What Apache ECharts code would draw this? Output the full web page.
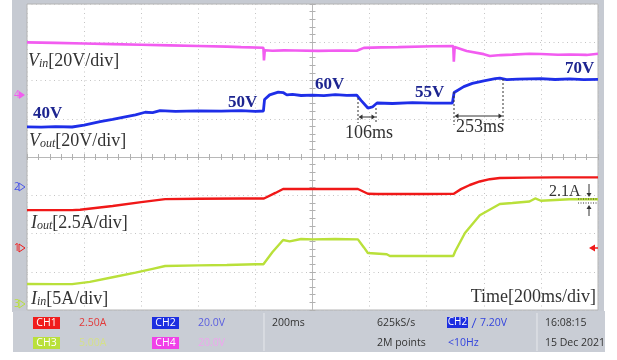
<!DOCTYPE html>
<html>
<head>
<meta charset="utf-8">
<script src="https://cdn.jsdelivr.net/npm/echarts@6/dist/echarts.min.js"></script>
<style>
  html, body { margin: 0; padding: 0; background: #fff; }
  #chart { width: 617px; height: 360px; }
</style>
</head>
<body>
<div id="chart"></div>
<script>
// Oscilloscope capture: time in ms relative to the trigger point (200 ms/div, 10 div)
const timeSpan = [-1000, 1000];
const timePerDiv = 200;

// CH4 — input voltage (V)
const vinTrace = [
  [-1000, 94.0], [-900, 93.7], [-800, 93.3], [-700, 92.9], [-600, 92.5], [-500, 92.1],
  [-400, 91.7], [-300, 91.3], [-250, 91.0], [-172, 90.6], [-170, 82.5], [-167, 89.0],
  [-140, 88.7], [-100, 88.9], [-60, 88.8], [20, 88.6], [100, 88.8], [155, 88.7],
  [180, 90.5], [240, 90.8], [300, 91.0], [420, 91.5], [493, 91.7], [495, 81.7],
  [498, 91.0], [540, 88.5], [600, 86.5], [621, 85.3], [660, 85.9], [700, 86.2],
  [760, 86.7], [800, 86.6], [860, 86.1], [900, 86.3], [960, 86.0], [1000, 86.7]
];

// CH2 — output voltage (V)
const voutTrace = [
  [-1000, 40.1], [-950, 39.9], [-900, 40.2], [-842, 40.0], [-800, 41.2], [-744, 43.5],
  [-700, 44.8], [-656, 46.5], [-620, 47.8], [-586, 49.4], [-560, 49.2], [-534, 50.4],
  [-480, 50.0], [-400, 50.3], [-320, 50.1], [-250, 50.4], [-200, 50.0], [-172, 50.2],
  [-168, 57.5], [-150, 60.5], [-120, 62.3], [-103, 62.0], [-90, 60.5], [-70, 60.8],
  [-40, 60.1], [0, 60.4], [40, 60.0], [80, 60.6], [120, 60.2], [155, 60.3],
  [170, 57.0], [194, 52.1], [210, 52.8], [226, 55.3], [280, 55.0], [350, 55.5],
  [420, 55.2], [490, 55.3], [496, 62.0], [530, 65.8], [560, 67.8], [600, 69.5],
  [640, 70.8], [656, 71.2], [680, 70.2], [720, 70.6], [800, 70.9], [850, 70.3],
  [900, 70.7], [950, 70.2], [1000, 70.4]
];

// CH1 — output current (A)
const ioutTrace = [
  [-1000, 2.48], [-842, 2.48], [-814, 2.5], [-700, 2.75], [-600, 3.0], [-516, 3.2],
  [-400, 3.22], [-250, 3.24], [-170, 3.24], [-130, 3.6], [-103, 3.86], [0, 3.86],
  [159, 3.86], [194, 3.55], [226, 3.53], [400, 3.53], [495, 3.55], [520, 3.85],
  [551, 4.12], [586, 4.35], [621, 4.5], [656, 4.58], [750, 4.6], [850, 4.62], [1000, 4.62]
];

// CH3 — input current (A)
const iinTrace = [
  [-1000, 2.61], [-900, 2.6], [-842, 2.6], [-780, 2.9], [-700, 3.5], [-620, 4.1],
  [-560, 4.6], [-516, 4.97], [-400, 5.05], [-300, 5.1], [-200, 5.2], [-172, 5.2],
  [-140, 6.8], [-103, 8.37], [-80, 8.2], [-40, 8.5], [0, 8.45], [80, 8.5], [159, 8.45],
  [180, 7.4], [194, 6.67], [260, 6.5], [271, 6.27], [400, 6.3], [493, 6.27], [500, 6.9],
  [534, 9.28], [586, 11.6], [656, 13.07], [700, 13.2], [760, 13.4], [780, 13.8],
  [800, 13.5], [900, 13.7], [1000, 13.7]
];

// Output voltage set-points annotated along CH2
const voutLevels = ['40V', '50V', '60V', '55V', '70V'];
const timingNotes = ['106ms', '253ms'];
const currentNote = '2.1A';

// Status bar readouts
const chanReadouts = [
  { name: 'CH1', scale: '2.50A' },
  { name: 'CH2', scale: '20.0V' },
  { name: 'CH3', scale: '5.00A' },
  { name: 'CH4', scale: '20.0V' }
];
const timebase = '200ms';
const acquisition = ['625kS/s', '2M points'];
const trigger = ['CH2', '7.20V', '<10Hz'];
const stamp = ['16:08:15', '15 Dec 2021'];

const C = {
  vin: '#f25cf0', vout: '#1e2ee8', iout: '#f01818', iin: '#b9e03a',
  navy: '#1d2590', ink: '#333333', frame: '#c6cad2', panel: '#c9cdd5'
};
const SERIF = '"Liberation Serif", "DejaVu Serif", serif';
const SANS = '"Open Sans", "Liberation Sans", sans-serif';

const chart = echarts.init(document.getElementById('chart'), null, { renderer: 'canvas' });

const gridBox = { left: 27, top: 4, width: 571, height: 306 };

function text(x, y, str, opt) {
  return {
    type: 'text', x: x, y: y, z: 100,
    style: Object.assign({
      text: str, fill: C.ink, fontSize: 18, fontFamily: SERIF,
      align: 'left', verticalAlign: 'middle'
    }, opt || {})
  };
}
function line(x1, y1, x2, y2, opt) {
  return {
    type: 'line', z: 100,
    shape: { x1: x1, y1: y1, x2: x2, y2: y2 },
    style: Object.assign({ stroke: C.ink, lineWidth: 1 }, opt || {})
  };
}
function poly(points, fill, stroke) {
  return {
    type: 'polygon', z: 100,
    shape: { points: points },
    style: stroke ? { fill: 'none', stroke: stroke, lineWidth: 1 } : { fill: fill }
  };
}
function head(x, y, dir) {
  const s = 4, w = 2.5;
  if (dir === 'left') return poly([[x, y], [x + s, y - w], [x + s, y + w]], C.ink);
  if (dir === 'right') return poly([[x, y], [x - s, y - w], [x - s, y + w]], C.ink);
  if (dir === 'down') return poly([[x, y], [x - w, y - s], [x + w, y - s]], C.ink);
  return poly([[x, y], [x - w, y + s], [x + w, y + s]], C.ink);
}
function chanLabel(x, y, main, sub, rest) {
  return text(x, y, '{m|' + main + '}{s|' + sub + '}' + rest, {
    rich: {
      m: { fontStyle: 'italic', fontSize: 18, fontFamily: SERIF, fill: C.ink, verticalAlign: 'bottom' },
      s: { fontStyle: 'italic', fontSize: 12, fontFamily: SERIF, fill: C.ink, verticalAlign: 'bottom' }
    }
  });
}
function marker(y, num, color, filled) {
  return [
    text(14, y, num, { fontSize: 10, fontFamily: SANS, fill: color }),
    poly([[19, y - 4], [19, y + 4], [25, y]], color, filled ? null : color)
  ];
}

const graphics = [];
// instrument frame and status bar
graphics.push({ type: 'rect', z: -10, shape: { x: 12, y: 0, width: 592, height: 312 }, style: { fill: C.frame } });
graphics.push({ type: 'rect', z: -10, shape: { x: 13, y: 311, width: 592, height: 41 }, style: { fill: C.panel } });
graphics.push(line(264, 313, 264, 351, { stroke: '#e6e8ec' }));
graphics.push(line(537, 313, 537, 351, { stroke: '#e6e8ec' }));

// channel readouts
const boxColors = { CH1: '#f01c1c', CH2: '#1c2ee0', CH3: '#b9e03a', CH4: '#f040e8' };
const scaleColors = { CH1: '#e23a3a', CH2: '#5a5ee0', CH3: '#d5e08a', CH4: '#eea6ee' };
const slots = { CH1: [33, 323], CH2: [152, 323], CH3: [33, 343], CH4: [152, 343] };
chanReadouts.forEach(function (c) {
  const p = slots[c.name];
  graphics.push({ type: 'rect', z: 50, shape: { x: p[0], y: p[1] - 6, width: 27, height: 12 }, style: { fill: boxColors[c.name] } });
  graphics.push(text(p[0] + 13.5, p[1], c.name, { fontSize: 10.5, fontFamily: SANS, fill: '#fff', align: 'center' }));
  graphics.push(text(p[0] + 46, p[1], c.scale, { fontSize: 10.5, fontFamily: SANS, fill: scaleColors[c.name] }));
});
graphics.push(text(272, 323, timebase, { fontSize: 10.5, fontFamily: SANS }));
graphics.push(text(377, 323, acquisition[0], { fontSize: 10.5, fontFamily: SANS }));
graphics.push(text(377, 343, acquisition[1], { fontSize: 10.5, fontFamily: SANS }));
graphics.push({ type: 'rect', z: 50, shape: { x: 447, y: 317, width: 21, height: 11 }, style: { fill: '#1c2ee0' } });
graphics.push(text(457.5, 322.5, trigger[0], { fontSize: 10, fontFamily: SANS, fill: '#fff', align: 'center' }));
graphics.push(line(472, 328, 476, 318, { stroke: '#3344dd' }));
graphics.push(text(480, 323, trigger[1], { fontSize: 10.5, fontFamily: SANS, fill: '#3344dd' }));
graphics.push(text(448, 343, trigger[2], { fontSize: 10.5, fontFamily: SANS, fill: '#3344dd' }));
graphics.push(text(545, 323, stamp[0], { fontSize: 10.5, fontFamily: SANS }));
graphics.push(text(545, 343, stamp[1], { fontSize: 10.5, fontFamily: SANS }));

// channel ground markers
graphics.push.apply(graphics, marker(95, '4', C.vin, true));
graphics.push.apply(graphics, marker(187, '2', '#4a55e8', false));
graphics.push.apply(graphics, marker(248, '1', C.iout, false));
graphics.push.apply(graphics, marker(304, '3', C.iin, false));
// trigger level arrow on the right
graphics.push(poly([[589, 248], [595, 244.5], [595, 251.5]], C.iout));
graphics.push(line(594, 248, 598, 248, { stroke: C.iout, lineWidth: 1.5 }));

// channel scale captions
graphics.push(chanLabel(28, 61, 'V', 'in', '[20V/div]'));
graphics.push(chanLabel(29, 141, 'V', 'out', '[20V/div]'));
graphics.push(chanLabel(31, 223, 'I', 'out', '[2.5A/div]'));
graphics.push(chanLabel(31, 299, 'I', 'in', '[5A/div]'));
graphics.push(text(596, 297, 'Time[' + timePerDiv + 'ms/div]', { align: 'right' }));

// output voltage level tags
const levelPos = [[33, 114], [228, 102.5], [315, 84.5], [415, 92.5], [565, 68.5]];
voutLevels.forEach(function (lv, i) {
  graphics.push(text(levelPos[i][0], levelPos[i][1], lv, { fontSize: 17, fontWeight: 'bold', fill: C.navy }));
});

// settling time markers
const dash = { lineDash: [2, 2] };
graphics.push(line(358, 98, 358, 123, dash), line(376, 108, 376, 123, dash));
graphics.push(line(360, 117, 374, 117), head(358.5, 117, 'left'), head(375.5, 117, 'right'));
graphics.push(text(369, 133, timingNotes[0], { align: 'center' }));
graphics.push(line(454, 92, 454, 125, dash), line(503, 79, 503, 125, dash));
graphics.push(line(456, 116, 501, 116), head(454.5, 116, 'left'), head(502.5, 116, 'right'));
graphics.push(text(480, 127, timingNotes[1], { align: 'center' }));

// current gap marker
const dot = { lineDash: [1, 1.5] };
graphics.push(line(578, 199, 598, 199, dot), line(578, 203, 598, 203, dot));
graphics.push(line(589, 184, 589, 195), head(589, 197, 'down'));
graphics.push(line(589, 216, 589, 207), head(589, 205, 'up'));
graphics.push(text(549, 191.5, currentNote, { fontSize: 16 }));

const graticuleTick = { show: true, inside: true, length: 3, lineStyle: { color: '#b0b0b0' } };
const graticuleMinor = { show: true, splitNumber: 5, length: 3, lineStyle: { color: '#b0b0b0' } };
const dottedGrid = { show: true, lineStyle: { color: '#c4c4c4', type: [1, 3.5], width: 1 } };

function xAx(pos, withGrid) {
  return {
    type: 'value', position: pos, min: timeSpan[0], max: timeSpan[1], interval: timePerDiv,
    axisLine: { show: true, onZero: true, onZeroAxisIndex: 0, lineStyle: { color: '#b8b8b8' } },
    axisTick: graticuleTick, minorTick: graticuleMinor,
    axisLabel: { show: false }, splitLine: withGrid ? dottedGrid : { show: false }
  };
}
function yAx(pos, withGrid) {
  return {
    type: 'value', position: pos, min: -4, max: 4, interval: 1,
    axisLine: { show: true, onZero: true, onZeroAxisIndex: 0, lineStyle: { color: '#b8b8b8' } },
    axisTick: graticuleTick, minorTick: graticuleMinor,
    axisLabel: { show: false }, splitLine: withGrid ? dottedGrid : { show: false }
  };
}
function hiddenAx(min, max) {
  return { type: 'value', show: false, min: min, max: max, splitLine: { show: false } };
}

function trace(name, data, yIdx, color, width) {
  return {
    name: name, type: 'line', data: data, xAxisIndex: 0, yAxisIndex: yIdx,
    showSymbol: false, symbol: 'none', smooth: false,
    lineStyle: { color: color, width: width }, itemStyle: { color: color },
    emphasis: { disabled: true }, z: 5
  };
}

chart.setOption({
  animation: false,
  backgroundColor: '#ffffff',
  grid: Object.assign({
    show: true, backgroundColor: '#ffffff', borderColor: '#b4b4b4', borderWidth: 1,
    outerBoundsMode: 'none'
  }, gridBox),
  xAxis: [xAx('bottom', true), xAx('top', false)],
  yAxis: [
    yAx('left', true), yAx('right', false),
    hiddenAx(-76.8, 118.5),   // volts (CH2, CH4)
    hiddenAx(-4.05, 15.95),   // CH1 amps
    hiddenAx(-0.78, 39.22)    // CH3 amps
  ],
  series: [
    trace('Vin', vinTrace, 2, C.vin, 2.6),
    trace('Iin', iinTrace, 4, C.iin, 2.4),
    trace('Iout', ioutTrace, 3, C.iout, 2.4),
    trace('Vout', voutTrace, 2, C.vout, 2.8)
  ],
  graphic: { elements: graphics }
});
</script>
</body>
</html>
